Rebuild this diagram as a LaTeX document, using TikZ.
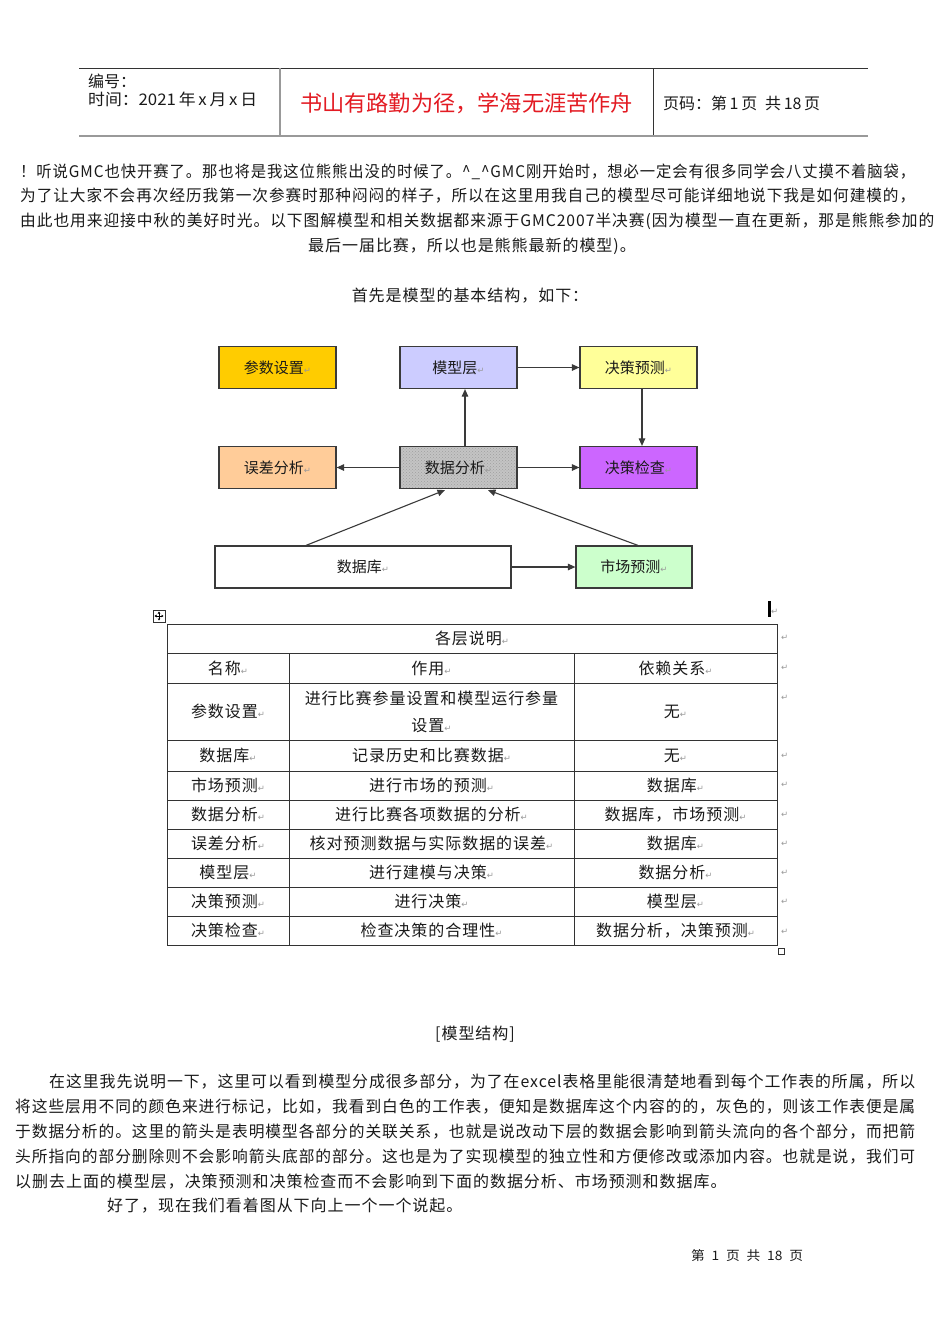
\documentclass[tikz,border=0pt]{standalone}
\usepackage{fontspec}
\usepackage{graphicx}
\usetikzlibrary{arrows.meta,patterns}
\setmainfont{Noto Sans CJK SC}
\newfontfamily\cjk{Noto Sans CJK SC}
\newfontfamily\cjkls[LetterSpace=6]{Noto Sans CJK SC}
\newfontfamily\dejavu{DejaVu Sans}
\definecolor{hdrdark}{HTML}{333333}
\definecolor{hdrgray}{HTML}{999999}
\definecolor{titlered}{HTML}{E31B23}
\definecolor{boxline}{HTML}{3A3A3A}
\definecolor{arrline}{HTML}{3A3A3A}
\definecolor{cSet}{HTML}{FFCC00}
\definecolor{cModel}{HTML}{CCCCFF}
\definecolor{cPred}{HTML}{FFFF99}
\definecolor{cErr}{HTML}{FFCC99}
\definecolor{cChk}{HTML}{CC66FF}
\definecolor{cMkt}{HTML}{CCFFCC}
\definecolor{cData}{HTML}{C4C4C4}
\definecolor{txt}{HTML}{1A1A1A}
\newcommand\rt{{\dejavu\fontsize{8.5}{8.5}\selectfont\textcolor{gray!80}{↵}}}
\newcommand\fitline[2]{\resizebox{#1}{\height}{#2}}
\tikzset{
  hdrtxt/.style={anchor=west, inner sep=0pt, text=txt, font=\cjk\fontsize{16}{16}\selectfont},
  titletxt/.style={inner sep=0pt, text=titlered, font=\cjk\fontsize{22}{22}\selectfont},
  body/.style={anchor=west, inner sep=0pt, text=txt, font=\cjkls\fontsize{16}{16}\selectfont},
  bodyc/.style={inner sep=0pt, text=txt, font=\cjkls\fontsize{16}{16}\selectfont},
  box/.style={draw=boxline, line width=1.2pt, minimum width=117pt, minimum height=42pt, inner sep=0pt, text=txt, font=\cjk\fontsize{15}{15}\selectfont},
  datafill/.style={preaction={fill=cData}, pattern=crosshatch dots, pattern color=gray!75},
  arr/.style={draw=arrline, line width=1.1pt, -{Triangle[length=7.5pt,width=6.5pt]}},
  tbl/.style={draw=hdrdark, line width=1pt},
  cell/.style={inner sep=0pt, text=txt, font=\cjkls\fontsize{16}{16}\selectfont},
  retmark/.style={inner sep=0pt, anchor=west}
}
\begin{document}
\begin{tikzpicture}[x=1pt,y=-1pt]
\useasboundingbox[fill=white] (0,0) rectangle (950,1344);

% ---------- header ----------
\draw[line width=1pt, color=hdrdark] (79,68) -- (868,68);
\draw[line width=2pt, color=hdrgray] (79,136) -- (868,136);
\draw[line width=1.2pt, color=hdrgray] (280,68) -- (280,135);
\draw[line width=1pt, color=hdrdark] (653,68) -- (653,135);
\node[hdrtxt] (bh) at (88,81) {编号：};
\node[hdrtxt] (sj) at (88,99) {\fitline{169pt}{时间：2021\,年\,x\,月\,x\,日}};
\node[titletxt] (tt) at (466.5,103) {\fitline{333pt}{书山有路勤为径，学海无涯苦作舟}};
\node[hdrtxt] (ym) at (663,103) {\fitline{157pt}{页码：第\,1\,页\enspace 共\,18\,页}};

% ---------- first paragraph ----------
\node[body] (p1a) at (20,172) {\fitline{895pt}{！听说GMC也快开赛了。那也将是我这位熊熊出没的时候了。\textasciicircum\_\textasciicircum GMC刚开始时，想必一定会有很多同学会八丈摸不着脑袋，}};
\node[body] (p1b) at (20,196) {\fitline{895pt}{为了让大家不会再次经历我第一次参赛时那种闷闷的样子，所以在这里用我自己的模型尽可能详细地说下我是如何建模的，}};
\node[body] (p1c) at (20,221) {\fitline{914pt}{由此也用来迎接中秋的美好时光。以下图解模型和相关数据都来源于GMC2007半决赛(因为模型一直在更新，那是熊熊参加的}};
\node[bodyc] (p1d) at (472,246) {最后一届比赛，所以也是熊熊最新的模型)。};
\node[bodyc] (intro) at (470,296) {首先是模型的基本结构，如下：};

% ---------- diagram ----------
\node[box, fill=cSet] (csz) at (277.5,367.5) {参数设置\rt};
\node[box, fill=cModel] (mxc) at (458.5,367.5) {模型层\rt};
\node[box, fill=cPred] (jcyc) at (638.5,367.5) {决策预测\rt};
\node[box, fill=cErr] (wcfx) at (277.5,467.5) {误差分析\rt};
\node[box, datafill] (sjfx) at (458.5,467.5) {数据分析\rt};
\node[box, fill=cChk] (jcjc) at (638.5,467.5) {决策检查\rt};
\node[box, fill=white, minimum width=296pt] (sjk) at (363,567) {数据库\rt};
\node[box, fill=cMkt, minimum width=116pt] (scyc) at (634,567) {市场预测\rt};

\draw[arr] (mxc.east) -- (jcyc.west);
\draw[arr] ([xshift=3.5pt]jcyc.south) -- ([xshift=3.5pt]jcjc.north);
\draw[arr] ([xshift=6.5pt]sjfx.north) -- ([xshift=6.5pt]mxc.south);
\draw[arr] (sjfx.west) -- (wcfx.east);
\draw[arr] (sjfx.east) -- (jcjc.west);
\draw[arr] ([xshift=-57pt]sjk.north) -- ([xshift=-13.5pt,yshift=-1pt]sjfx.south);
\draw[arr] ([xshift=4pt]scyc.north) -- ([xshift=29.5pt,yshift=-1pt]sjfx.south);
\draw[arr] (sjk.east) -- (scyc.west);

% ---------- table ----------
\draw[line width=0.8pt, color=hdrdark] (153,610) rectangle (165,622);
\draw[line width=0.6pt, -{Triangle[length=2pt,width=2.5pt]}] (159,616) -- (159,611.5);
\draw[line width=0.6pt, -{Triangle[length=2pt,width=2.5pt]}] (159,616) -- (159,620.5);
\draw[line width=0.6pt, -{Triangle[length=2pt,width=2.5pt]}] (159,616) -- (154.5,616);
\draw[line width=0.6pt, -{Triangle[length=2pt,width=2.5pt]}] (159,616) -- (163.5,616);
\fill[black] (768,601) rectangle (770.5,617);
\node[retmark] (cur) at (771,612) {\rt};

\draw[tbl] (167,624) rectangle (777,945);
\foreach \yy in {653,683,740,771,800,829,858,887,916} {
  \draw[tbl] (167,\yy) -- (777,\yy);
}
\draw[tbl] (289,653) -- (289,945);
\draw[tbl] (574,653) -- (574,945);
\draw[line width=0.8pt, color=hdrdark] (778,948) rectangle (784,954);

\node[cell] (th) at (472,638.5) {各层说明\rt};
\node[cell] (h1) at (228,668) {名称\rt};
\node[cell] (h2) at (431.5,668) {作用\rt};
\node[cell] (h3) at (675.5,668) {依赖关系\rt};

\node[cell] (a1) at (228,711.5) {参数设置\rt};
\node[cell] (a2a) at (431.5,698) {进行比赛参量设置和模型运行参量};
\node[cell] (a2b) at (431.5,726) {设置\rt};
\node[cell] (a3) at (675.5,711.5) {无\rt};

\node[cell] (b1) at (228,755.5) {数据库\rt};
\node[cell] (b2) at (431.5,755.5) {记录历史和比赛数据\rt};
\node[cell] (b3) at (675.5,755.5) {无\rt};

\node[cell] (c1) at (228,785.5) {市场预测\rt};
\node[cell] (c2) at (431.5,785.5) {进行市场的预测\rt};
\node[cell] (c3) at (675.5,785.5) {数据库\rt};

\node[cell] (d1) at (228,814.5) {数据分析\rt};
\node[cell] (d2) at (431.5,814.5) {进行比赛各项数据的分析\rt};
\node[cell] (d3) at (675.5,814.5) {数据库，市场预测\rt};

\node[cell] (e1) at (228,843.5) {误差分析\rt};
\node[cell] (e2) at (431.5,843.5) {核对预测数据与实际数据的误差\rt};
\node[cell] (e3) at (675.5,843.5) {数据库\rt};

\node[cell] (f1) at (228,872.5) {模型层\rt};
\node[cell] (f2) at (431.5,872.5) {进行建模与决策\rt};
\node[cell] (f3) at (675.5,872.5) {数据分析\rt};

\node[cell] (g1) at (228,901.5) {决策预测\rt};
\node[cell] (g2) at (431.5,901.5) {进行决策\rt};
\node[cell] (g3) at (675.5,901.5) {模型层\rt};

\node[cell] (k1) at (228,930.5) {决策检查\rt};
\node[cell] (k2) at (431.5,930.5) {检查决策的合理性\rt};
\node[cell] (k3) at (675.5,930.5) {数据分析，决策预测\rt};

\foreach \yy [count=\i] in {638,668,698,756,785,815,844,873,902,932} {
  \node[retmark] (rm\i) at (781,\yy) {\rt};
}

% ---------- second paragraph ----------
\node[bodyc] (cap) at (475,1034) {[模型结构]};
\node[body] (p2a) at (49,1082) {\fitline{866pt}{在这里我先说明一下，这里可以看到模型分成很多部分，为了在excel表格里能很清楚地看到每个工作表的所属，所以}};
\node[body] (p2b) at (15,1107) {\fitline{900pt}{将这些层用不同的颜色来进行标记，比如，我看到白色的工作表，便知是数据库这个内容的的，灰色的，则该工作表便是属}};
\node[body] (p2c) at (15,1132) {\fitline{900pt}{于数据分析的。这里的箭头是表明模型各部分的关联关系，也就是说改动下层的数据会影响到箭头流向的各个部分，而把箭}};
\node[body] (p2d) at (15,1157) {\fitline{900pt}{头所指向的部分删除则不会影响箭头底部的部分。这也是为了实现模型的独立性和方便修改或添加内容。也就是说，我们可}};
\node[body] (p2e) at (15,1182) {以删去上面的模型层，决策预测和决策检查而不会影响到下面的数据分析、市场预测和数据库。};
\node[body] (p2f) at (107,1206) {好了，现在我们看着图从下向上一个一个说起。};

% ---------- footer ----------
\node[inner sep=0pt, text=txt, font=\cjk\fontsize{13}{13}\selectfont] (ft) at (747,1256) {\fitline{112pt}{第\enspace 1\enspace 页\enspace 共\enspace 18\enspace 页}};
\end{tikzpicture}
\end{document}
